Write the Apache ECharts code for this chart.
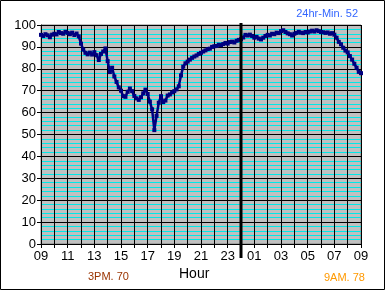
<!DOCTYPE html>
<html>
<head>
<meta charset="utf-8">
<script src="https://cdn.jsdelivr.net/npm/echarts@6/dist/echarts.min.js"></script>
<style>html,body{margin:0;padding:0;background:#fff;}#c{width:385px;height:290px;}</style>
</head>
<body>
<div id="c"></div>
<script>
// ---- data ----
var startHour = 9;          // first reading at 09:00
var stepMinutes = 10;       // one reading every 10 minutes, for 24 hours
var yTicks = [0,10,20,30,40,50,60,70,80,90,100];
var humidity = [
 95.5,95.0,95.8,95.3,94.4,95.6,96.0,95.7,96.8,96.3,96.0,96.9,
 96.4,95.8,96.5,95.4,96.1,94.8,91.5,88.8,87.3,86.6,87.4,86.5,
 87.6,86.2,84.0,86.8,87.9,89.3,83.5,78.5,80.5,76.5,74.0,71.5,
 70.0,67.5,67.2,69.5,71.0,69.8,67.6,66.5,65.8,67.0,68.8,70.5,
 68.5,65.0,61.5,52.0,58.5,64.5,67.5,64.8,65.5,67.8,68.3,69.2,
 69.8,70.6,72.0,77.0,81.0,82.5,83.3,84.2,85.0,85.6,86.1,86.8,
 87.3,87.9,88.4,89.0,89.2,90.0,90.3,90.4,91.0,90.8,91.3,91.8,
 91.5,92.2,92.4,92.0,92.8,93.2,93.5,94.3,95.5,95.2,95.6,95.0,
 94.2,94.6,93.8,93.4,94.2,95.0,95.5,95.2,96.0,95.8,96.5,96.3,
 97.2,97.6,96.8,96.2,95.8,95.2,96.0,96.4,96.9,96.5,96.3,96.8,
 96.6,97.0,97.4,97.0,97.6,97.2,96.8,96.7,96.4,96.6,96.0,96.3,
 95.6,94.2,92.3,91.2,89.6,88.3,87.5,85.8,84.2,82.3,80.5,78.6,
 78.0
];
var midnightOffset = 15;    // hours after 09:00
var minText = '24hr-Min. 52';
var pmText = '3PM. 70';
var amText = '9AM. 78';
var axisTitle = 'Hour';

// ---- build ----
var seriesData = humidity.map(function (v, i) { return [i * stepMinutes / 60, v]; });
var FONT = '"Liberation Sans", Arial, sans-serif';

var chart = echarts.init(document.getElementById('c'), null, {renderer: 'canvas'});
chart.setOption({
  animation: false,
  backgroundColor: '#fff',
  grid: {left: 41, right: 24, top: 25, bottom: 46, show: true, backgroundColor: '#c0c0c0', borderColor: '#808080', borderWidth: 1},
  xAxis: {
    type: 'value', min: 0, max: 24, interval: 1,
    axisLine: {show: true, onZero: false, lineStyle: {color: '#000', width: 1}},
    axisTick: {show: true, length: 4, lineStyle: {color: '#000'}},
    axisLabel: {
      color: '#000', fontSize: 13, fontFamily: FONT, margin: 6,
      formatter: function (v) {
        if (v % 2 !== 0) return '';
        var h = (startHour + v) % 24;
        return (h < 10 ? '0' : '') + h;
      }
    },
    splitLine: {show: true, lineStyle: {color: '#000', width: 1}}
  },
  yAxis: {
    type: 'value', min: yTicks[0], max: yTicks[yTicks.length - 1], interval: 10,
    axisLine: {show: true, lineStyle: {color: '#000', width: 1}},
    axisTick: {show: true, length: 4, lineStyle: {color: '#000'}},
    axisLabel: {color: '#000', fontSize: 13, fontFamily: FONT, margin: 5},
    splitLine: {show: true, lineStyle: {color: '#000', width: 1}},
    minorTick: {show: false, splitNumber: 5},
    minorSplitLine: {show: true, lineStyle: {color: '#00e8e8', width: 1}}
  },
  series: [
    {
      type: 'line', data: seriesData, showSymbol: true, symbol: 'rect', symbolSize: 4, z: 5,
      lineStyle: {color: '#000080', width: 2.5}, itemStyle: {color: '#000080'}
    },
    {
      type: 'custom', z: 6, clip: false,
      data: [[midnightOffset, yTicks[yTicks.length - 1]]],
      renderItem: function (params, api) {
        var top = api.coord([api.value(0), yTicks[yTicks.length - 1]]);
        var bot = api.coord([api.value(0), yTicks[0]]);
        return {type: 'line', shape: {x1: top[0], y1: top[1] - 2, x2: bot[0], y2: bot[1] + 14},
          style: {stroke: '#000', lineWidth: 3}};
      }
    }
  ],
  graphic: [
    {type: 'rect', shape: {x: 0.5, y: 0.5, width: 384, height: 289}, style: {fill: 'none', stroke: '#000', lineWidth: 1}, z: 100},
    {type: 'text', right: 27, top: 8, style: {text: minText, fill: '#3366ff', font: '11px ' + FONT}},
    {type: 'text', left: 88, top: 271, style: {text: pmText, fill: '#993300', font: '11px ' + FONT}},
    {type: 'text', left: 179, top: 267, style: {text: axisTitle, fill: '#000', font: '14px ' + FONT}},
    {type: 'text', left: 324, top: 272, style: {text: amText, fill: '#ff9900', font: '11px ' + FONT}}
  ]
});
</script>
</body>
</html>
